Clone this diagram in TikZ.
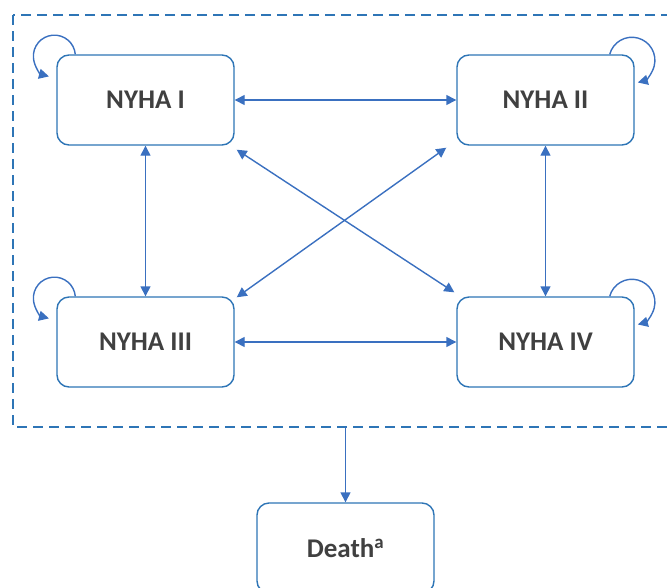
\documentclass[tikz,border=0pt]{standalone}
\usepackage{fontspec}
\setmainfont{Carlito}
\usetikzlibrary{arrows.meta}
\definecolor{boxblue}{RGB}{46,117,182}
\definecolor{arrblue}{RGB}{58,112,192}
\definecolor{txt}{RGB}{64,64,64}
\tikzset{
  state/.style={draw=boxblue, line width=1.4pt, rounded corners=12pt, fill=white,
    minimum width=177pt, minimum height=90pt, inner sep=0pt, text=txt,
    font=\fontsize{27}{30}\selectfont\bfseries},
  arr/.style={draw=arrblue, line width=1.4pt, -{Triangle[length=10pt,width=10pt]}},
  darr/.style={draw=arrblue, line width=1.4pt, {Triangle[length=10pt,width=10pt]}-{Triangle[length=10pt,width=10pt]}},
  frame/.style={draw=boxblue, line width=1.3pt, dash pattern=on 10pt off 6pt}
}
\begin{document}
\begin{tikzpicture}[x=1pt,y=1pt]
\useasboundingbox (0,0) rectangle (667,-587);
\draw[frame] (13,-15) rectangle (690,-427);
\coordinate (fb) at (345.5,-427);
\node[state] (n1) at (145.5,-100) {NYHA I};
\node[state] (n2) at (545.5,-100) {NYHA II};
\node[state] (n3) at (145.5,-342) {NYHA III};
\node[state] (n4) at (545.5,-342) {NYHA IV};
\node[state] (d) at (345.5,-548) {Death\textsuperscript{a}};
% horizontal & vertical
\draw[darr] (n1.east) -- (n2.west);
\draw[darr] (n3.east) -- (n4.west);
\draw[darr] (n1.south) -- (n3.north);
\draw[darr] (n2.south) -- (n4.north);
% diagonals
\draw[darr] ([shift={(2,-4)}]n1.south east) -- ([shift={(-2,4)}]n4.north west);
\draw[darr] ([shift={(-10,-2)}]n2.south west) -- ([shift={(2,-1)}]n3.north east);
% death
\draw[arr] (fb) -- (d.north);
% self loops
\draw[arr] ([xshift=19pt]n1.north west) arc[start angle=5, end angle=255, radius=21pt];
\draw[arr] ([xshift=19pt]n3.north west) arc[start angle=5, end angle=255, radius=21pt];
\draw[arr] ([xshift=-25pt]n2.north east) arc[start angle=165, end angle=-75, radius=23pt];
\draw[arr] ([xshift=-25pt]n4.north east) arc[start angle=165, end angle=-75, radius=23pt];
\end{tikzpicture}
\end{document}
